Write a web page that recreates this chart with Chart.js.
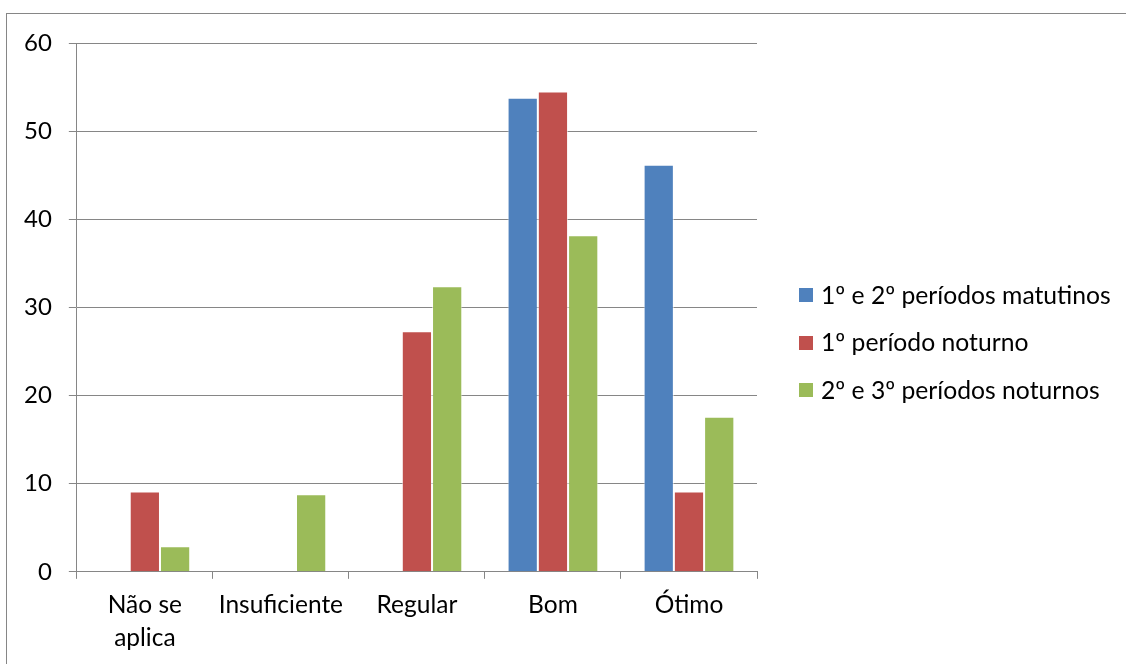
<!DOCTYPE html>
<html>
<head>
<meta charset="utf-8">
<script src="https://cdn.jsdelivr.net/npm/chart.js@4.4.1/dist/chart.umd.min.js"></script>
<style>
  html, body { margin: 0; padding: 0; background: #fff; }
  canvas { display: block; }
</style>
</head>
<body>
<canvas id="avaliacao" width="1126" height="664"></canvas>
<script>
// categories and series (percentages)
const categorias = [['Não se', 'aplica'], 'Insuficiente', 'Regular', 'Bom', 'Ótimo'];
const matutinos = [0, 0, 0, 53.8, 46.2];
const noturno1 = [9.1, 0, 27.3, 54.5, 9.1];
const noturnos23 = [2.9, 8.8, 32.4, 38.2, 17.6];
const nomesSeries = ['1º e 2º períodos matutinos', '1º período noturno', '2º e 3º períodos noturnos'];
const cores = ['#4F81BD', '#C0504D', '#9BBB59'];
const yTicks = [0, 10, 20, 30, 40, 50, 60];

const FONT = 'Lato, "Noto Sans", sans-serif';
const GRAY = '#868686';

// frame around the whole chart
const moldura = {
  id: 'moldura',
  beforeDraw(chart) {
    const ctx = chart.ctx;
    ctx.save();
    ctx.strokeStyle = GRAY;
    ctx.lineWidth = 1;
    ctx.strokeRect(6.5, 13.5, chart.width + 20, chart.height + 20);
    ctx.restore();
  }
};

// legend on the right side, one row per dataset
const legendaDireita = {
  id: 'legendaDireita',
  afterDraw(chart, args, opts) {
    const ctx = chart.ctx;
    const x = chart.chartArea.right + opts.gap;
    const n = chart.data.datasets.length;
    const y0 = opts.centerY - (n - 1) * opts.rowHeight / 2;
    ctx.save();
    ctx.font = opts.fontSize + 'px ' + FONT;
    ctx.textBaseline = 'middle';
    chart.data.datasets.forEach((ds, i) => {
      const y = y0 + i * opts.rowHeight;
      ctx.fillStyle = ds.backgroundColor;
      ctx.fillRect(x, Math.round(y - opts.box / 2), opts.box, opts.box);
      ctx.fillStyle = '#000';
      ctx.fillText(ds.label, x + opts.box + 8, y + 1);
    });
    ctx.restore();
  }
};

const ctx = document.getElementById('avaliacao').getContext('2d');
new Chart(ctx, {
  type: 'bar',
  data: {
    labels: categorias,
    datasets: [
      { label: nomesSeries[0], data: matutinos, backgroundColor: cores[0] },
      { label: nomesSeries[1], data: noturno1, backgroundColor: cores[1] },
      { label: nomesSeries[2], data: noturnos23, backgroundColor: cores[2] }
    ].map(ds => Object.assign(ds, {
      borderColor: 'rgba(255,255,255,0.6)',
      borderWidth: 1,
      categoryPercentage: 0.667,
      barPercentage: 1
    }))
  },
  options: {
    responsive: false,
    animation: false,
    devicePixelRatio: 1,
    layout: { padding: { left: 7, top: 43, right: 369, bottom: 0 } },
    plugins: {
      legend: { display: false },
      tooltip: { enabled: false },
      legendaDireita: { gap: 42, centerY: 342.5, rowHeight: 47.5, box: 14, fontSize: 24.7 }
    },
    scales: {
      x: {
        grid: {
          drawOnChartArea: false,
          drawTicks: true,
          tickLength: 7,
          color: GRAY,
          lineWidth: 1
        },
        border: { color: GRAY, width: 1 },
        ticks: {
          color: '#000',
          padding: 10,
          maxRotation: 0,
          autoSkip: false,
          font: { family: FONT, size: 24.5, lineHeight: 1.33 }
        }
      },
      y: {
        min: 0,
        max: 60,
        afterBuildTicks(scale) {
          scale.ticks = yTicks.map(v => ({ value: v }));
        },
        grid: {
          color: GRAY,
          lineWidth: 1,
          tickLength: 8
        },
        border: { color: GRAY, width: 1 },
        ticks: {
          color: '#000',
          padding: 17,
          font: { family: FONT, size: 24 }
        }
      }
    }
  },
  plugins: [moldura, legendaDireita]
});
</script>
</body>
</html>
